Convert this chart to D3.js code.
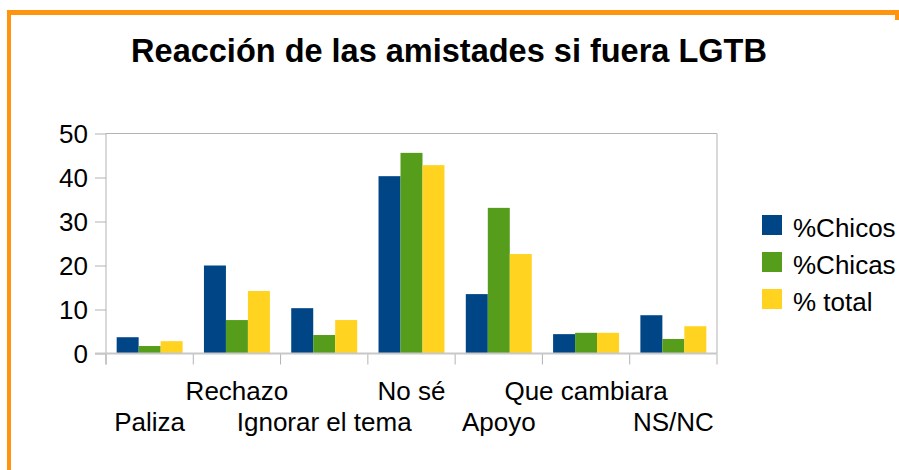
<!DOCTYPE html>
<html><head><meta charset="utf-8">
<script src="https://cdn.jsdelivr.net/npm/d3@7"></script>
<style>html,body{margin:0;padding:0;background:#fff;}svg{display:block;font-family:"Liberation Sans",Arial,sans-serif;}</style>
</head><body>
<script>
const categories = ["Paliza","Rechazo","Ignorar el tema","No sé","Apoyo","Que cambiara","NS/NC"];
const seriesNames = ["%Chicos","%Chicas","% total"];
const chicos = [3.7, 20, 10.3, 40.3, 13.5, 4.4, 8.7];
const chicas = [1.7, 7.6, 4.2, 45.6, 33.1, 4.7, 3.3];
const total  = [2.8, 14.2, 7.6, 42.8, 22.6, 4.7, 6.2];
const yTicks = [0,10,20,30,40,50];
const colors = ["#004586","#579d1c","#ffd320"];
const title = "Reacción de las amistades si fuera LGTB";

const W = 899, H = 470;
const svg = d3.select("body").append("svg").attr("width",W).attr("height",H);
svg.append("rect").attr("width",W).attr("height",H).attr("fill","#fff");

// orange frame
const orange = "#ff950e";
svg.append("rect").attr("x",7).attr("y",10).attr("width",W-7).attr("height",5).attr("fill",orange);
svg.append("rect").attr("x",7).attr("y",10).attr("width",4).attr("height",H-10).attr("fill",orange);
svg.append("rect").attr("x",895).attr("y",10).attr("width",4).attr("height",10).attr("fill",orange);

svg.append("text").attr("x",449).attr("y",61.5).attr("text-anchor","middle")
  .attr("font-size",32.5).attr("font-weight","bold").attr("fill","#000").text(title);

const L = 106, R = 717, T = 133.5, B = 353.5;
const x0 = d3.scaleBand().domain(categories).range([L,R]).padding(0);
const x1 = d3.scaleBand().domain(seriesNames).range([0,x0.bandwidth()]).paddingInner(0).paddingOuter(0.485);
const y = d3.scaleLinear().domain([0,50]).range([B,T]);

const grey = "#b3b3b3";
// plot frame top/right
svg.append("line").attr("x1",L).attr("x2",R).attr("y1",T).attr("y2",T).attr("stroke",grey).attr("stroke-width",1);
svg.append("line").attr("x1",R).attr("x2",R).attr("y1",T).attr("y2",B).attr("stroke",grey).attr("stroke-width",1);

// y axis
const ya = svg.append("g").attr("transform",`translate(${L},0)`)
  .call(d3.axisLeft(y).tickValues(yTicks).tickSize(11).tickPadding(7).tickFormat(d3.format("d")));
ya.select(".domain").attr("stroke",grey).attr("d",`M0,${T}V${B+11}`);
ya.selectAll(".tick line").attr("stroke",grey);
ya.selectAll(".tick text").attr("font-size",26).attr("fill","#000").attr("font-family","Liberation Sans, Arial, sans-serif").attr("dy","0.35em");

// x ticks at band boundaries
const bounds = categories.map(c=>x0(c)).concat([R]);
svg.append("g").selectAll("line").data(bounds).join("line")
  .attr("x1",d=>d).attr("x2",d=>d).attr("y1",B).attr("y2",B+11).attr("stroke",grey);

// bars
const series = [chicos, chicas, total];
series.forEach((vals,si)=>{
  svg.append("g").selectAll("rect").data(vals).join("rect")
    .attr("x",(d,i)=>x0(categories[i])+x1(seriesNames[si]))
    .attr("width",x1.bandwidth())
    .attr("y",d=>y(d))
    .attr("height",d=>B-y(d))
    .attr("fill",colors[si]);
});

// zero baseline
svg.append("line").attr("x1",95).attr("x2",R).attr("y1",B).attr("y2",B).attr("stroke","#c8c8c8").attr("stroke-width",2);

// category labels staggered
svg.append("g").selectAll("text").data(categories).join("text")
  .attr("x",d=>x0(d)+x0.bandwidth()/2)
  .attr("y",(d,i)=> i%2===0 ? 431 : 400)
  .attr("text-anchor","middle").attr("font-size",26).attr("fill","#000").text(d=>d);

// legend
const lg = svg.append("g");
seriesNames.forEach((n,i)=>{
  lg.append("rect").attr("x",762).attr("y",215+i*37).attr("width",20).attr("height",20).attr("fill",colors[i]);
  lg.append("text").attr("x",793).attr("y",237+i*37).attr("font-size",26).attr("fill","#000").text(n);
});
</script>
</body></html>
